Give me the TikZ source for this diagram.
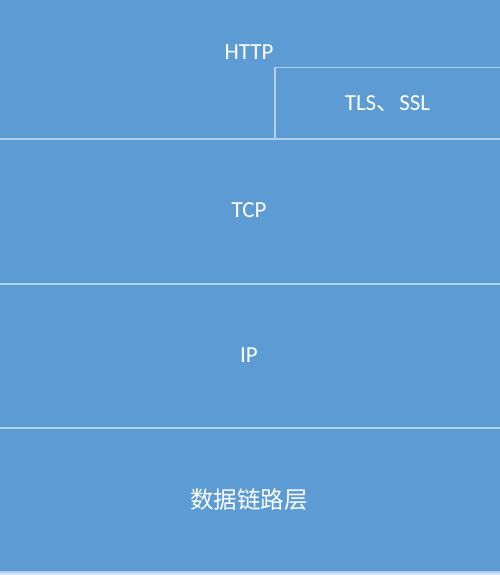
\documentclass[tikz,border=0pt]{standalone}
\usepackage{fontspec}
\setmainfont{Carlito}
\newfontfamily\cjk{Noto Sans CJK SC}
\definecolor{layerblue}{HTML}{5D9BD5}
\definecolor{sepline}{HTML}{B4CFEA}
\begin{document}
\begin{tikzpicture}[x=1pt,y=-1pt,
  sep/.style={draw=sepline,line width=1.6pt},
  lbl/.style={text=white,font=\fontsize{23}{27}\selectfont,inner sep=0pt}]
\useasboundingbox (0,0) rectangle (500,575);
\fill[sepline!60] (0,0) rectangle (500,575);
\fill[layerblue] (0,0) rectangle (500,572);
\draw[sep] (0,139) -- (500,139);
\draw[sep] (0,284) -- (500,284);
\draw[sep] (0,428) -- (500,428);
\draw[sep] (0,572) -- (500,572);
\draw[sep] (275,139) -- (275,67.5) -- (500,67.5);
\node[lbl] (http) at (249,52.5) {HTTP};
\node[lbl] (tls) at (387.5,104) {TLS{\cjk 、}SSL};
\node[lbl] (tcp) at (249,210.5) {TCP};
\node[lbl] (ip) at (249,355) {IP};
\node[lbl,font=\cjk\fontsize{23.5}{27}\selectfont] (dl) at (249,500) {数据链路层};
\end{tikzpicture}
\end{document}
